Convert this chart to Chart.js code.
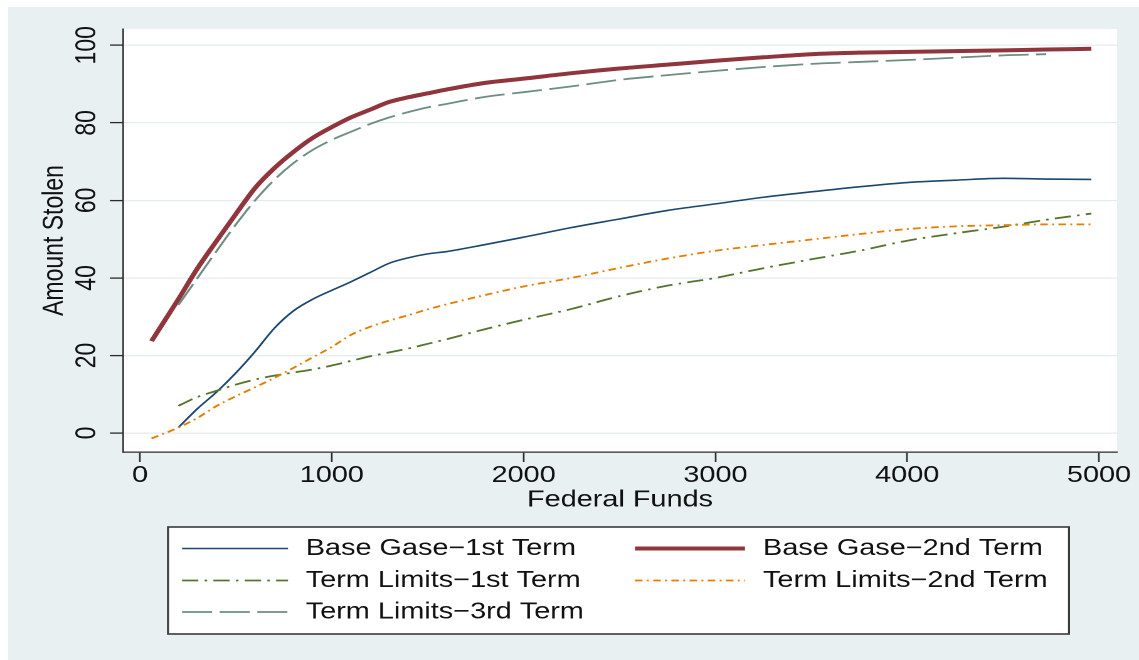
<!DOCTYPE html>
<html>
<head>
<meta charset="utf-8">
<title>Amount Stolen by Federal Funds</title>
<script src="https://cdn.jsdelivr.net/npm/chart.js@4.4.1/dist/chart.umd.min.js"></script>
<style>
  html, body { margin: 0; padding: 0; background: #ffffff; }
  canvas { display: block; }
</style>
</head>
<body>
<!-- drawn on a 908px-wide canvas and shown 1139px wide (horizontally stretched layout) -->
<canvas id="chart" width="908" height="660" style="width:1139px;height:660px"></canvas>
<script>
// Federal funds levels at which the model was evaluated
const federalFunds = [60, 200, 300, 400, 500, 600, 700, 800, 900, 1000, 1100, 1200, 1300, 1400, 1500,
                      1600, 1800, 2000, 2250, 2500, 2750, 3000, 3250, 3500, 3750, 4000, 4250, 4500, 4725, 4960];

// Amount stolen, one array per scenario (null = not evaluated)
const baseCase1st = [null, 1.4, 6.3, 10.6, 15.5, 21.0, 27.0, 31.5, 34.5, 36.8, 39.0, 41.4, 43.8, 45.2, 46.2,
                     46.8, 48.6, 50.5, 53.0, 55.2, 57.4, 59.1, 60.8, 62.2, 63.5, 64.6, 65.2, 65.7, 65.5, 65.4];
const baseCase2nd = [23.7, 34.5, 42.5, 49.6, 56.5, 63.2, 68.3, 72.5, 76.1, 78.9, 81.4, 83.4, 85.4, 86.6, 87.6,
                     88.6, 90.3, 91.4, 92.8, 94.0, 95.0, 96.0, 96.9, 97.7, 98.1, 98.3, 98.5, 98.7, 98.9, 99.1];
const termLimits1st = [null, 7.0, 9.3, 10.9, 12.5, 13.8, 14.8, 15.6, 16.4, 17.4, 18.6, 19.8, 20.8, 21.8, 23.0,
                       24.2, 26.8, 29.2, 32.0, 35.3, 38.0, 40.0, 42.5, 44.8, 47.0, 49.6, 51.5, 53.2, 55.0, 56.6];
const termLimits2nd = [-1.4, 1.4, 3.9, 7.0, 9.5, 11.8, 14.2, 16.8, 19.5, 22.2, 25.3, 27.4, 29.0, 30.4, 31.9,
                       33.2, 35.6, 37.8, 40.0, 42.6, 45.0, 47.0, 48.5, 49.9, 51.3, 52.6, 53.3, 53.6, 53.8, 53.8];
const termLimits3rd = [null, 33.0, 40.0, 47.0, 53.8, 60.0, 65.3, 69.6, 73.0, 75.6, 77.7, 79.7, 81.4, 82.8, 84.0,
                       84.9, 86.7, 87.9, 89.4, 91.1, 92.3, 93.4, 94.4, 95.2, 95.7, 96.2, 96.8, 97.4, 97.7, null];

// Axis ticks
const xTicks = [0, 1000, 2000, 3000, 4000, 5000];
const yTicks = [0, 20, 40, 60, 80, 100];

// Legend labels, in series order
const seriesLabels = [
  'Base Gase\u22121st Term',
  'Base Gase\u22122nd Term',
  'Term Limits\u22121st Term',
  'Term Limits\u22122nd Term',
  'Term Limits\u22123rd Term'
];

const FONT = '"Liberation Sans", Arial, Helvetica, sans-serif';
const FONT_SIZE = 23;
const TEXT = '#111111';
const AXIS = '#2b2b2b';
const BG = '#e8f0f2';
const GRID = '#e3ecef';

function points(ys) {
  const out = [];
  federalFunds.forEach((x, i) => { if (ys[i] !== null) out.push({ x: x, y: ys[i] }); });
  return out;
}

function series(i, ys, color, width, dash) {
  return {
    label: seriesLabels[i],
    data: points(ys),
    borderColor: color,
    backgroundColor: color,
    borderWidth: width,
    borderDash: dash,
    borderCapStyle: 'butt',
    pointRadius: 0,
    fill: false,
    cubicInterpolationMode: 'monotone',
    order: 4 - i
  };
}

// Light frame, white plot region
const backdrop = {
  id: 'backdrop',
  beforeDraw(chart) {
    const { ctx, width, height, chartArea: a } = chart;
    ctx.save();
    ctx.fillStyle = '#ffffff';
    ctx.fillRect(0, 0, width, height);
    ctx.fillStyle = BG;
    ctx.fillRect(6.4, 7, width - 6.4, height - 7);
    ctx.fillStyle = '#ffffff';
    ctx.fillRect(a.left, a.top, a.right - a.left, a.bottom - a.top);
    ctx.restore();
  }
};

// Boxed two-column legend below the plot
const boxLegend = {
  id: 'boxLegend',
  afterDraw(chart) {
    const ctx = chart.ctx;
    const box = { x: 133.9, y: 527, w: 718.3, h: 107 };
    const cols = [{ x0: 145.1, x1: 229.6, tx: 243.7 }, { x0: 506.2, x1: 593.9, tx: 608.3 }];
    const rows = [548.5, 580.5, 612];
    ctx.save();
    ctx.fillStyle = '#ffffff';
    ctx.fillRect(box.x, box.y, box.w, box.h);
    ctx.strokeStyle = '#3a3a3a';
    ctx.lineWidth = 1.6;
    ctx.setLineDash([]);
    ctx.strokeRect(box.x, box.y, box.w, box.h);
    chart.data.datasets.forEach((ds, i) => {
      const c = cols[i % 2];
      const y = rows[Math.floor(i / 2)];
      ctx.beginPath();
      ctx.strokeStyle = ds.borderColor;
      ctx.lineWidth = ds.borderWidth;
      ctx.lineCap = 'butt';
      ctx.setLineDash(ds.borderDash || []);
      ctx.moveTo(c.x0, y);
      ctx.lineTo(c.x1, y);
      ctx.stroke();
      ctx.setLineDash([]);
      ctx.fillStyle = TEXT;
      ctx.font = FONT_SIZE + 'px ' + FONT;
      ctx.textAlign = 'left';
      ctx.textBaseline = 'middle';
      ctx.fillText(ds.label, c.tx, y);
    });
    ctx.restore();
  }
};

new Chart(document.getElementById('chart'), {
  type: 'line',
  data: {
    datasets: [
      series(0, baseCase1st, '#1a476f', 1.6, []),
      series(1, baseCase2nd, '#90353b', 4, []),
      series(2, termLimits1st, '#55752f', 1.8, [13, 5, 2, 5]),
      series(3, termLimits2nd, '#e37e00', 1.8, [6, 3.5, 1.5, 3.5]),
      series(4, termLimits3rd, '#6e8e84', 1.8, [24, 6])
    ]
  },
  plugins: [backdrop, boxLegend],
  options: {
    responsive: false,
    devicePixelRatio: 2,
    animation: false,
    events: [],
    layout: { padding: { left: 0, top: 29, right: 17.5, bottom: 138 } },
    plugins: {
      legend: { display: false },
      title: { display: false },
      tooltip: { enabled: false }
    },
    scales: {
      x: {
        type: 'linear',
        min: -89,
        max: 5094,
        afterBuildTicks(scale) { scale.ticks = xTicks.map(v => ({ value: v })); },
        afterFit(scale) { scale.height = 70; },
        grid: { display: true, drawOnChartArea: false, drawTicks: true, tickLength: 10, tickColor: AXIS, tickWidth: 1.3 },
        border: { display: true, color: AXIS, width: 1.3 },
        ticks: { color: TEXT, font: { family: FONT, size: FONT_SIZE }, padding: 0, maxRotation: 0, autoSkip: false,
                 callback: v => String(v) },
        title: { display: true, text: 'Federal Funds', color: TEXT, font: { family: FONT, size: FONT_SIZE }, padding: { top: 0, bottom: 8.2 } }
      },
      y: {
        type: 'linear',
        min: -4.9,
        max: 104.2,
        afterBuildTicks(scale) { scale.ticks = yTicks.map(v => ({ value: v })); },
        afterFit(scale) { scale.width = 98; },
        grid: { display: true, drawOnChartArea: true, color: GRID, lineWidth: 1.2, drawTicks: true, tickLength: 10.4, tickColor: AXIS, tickWidth: 1.3 },
        border: { display: true, color: AXIS, width: 1.3 },
        ticks: { color: TEXT, font: { family: FONT, size: FONT_SIZE }, padding: -1, minRotation: 90, maxRotation: 90, crossAlign: 'center', autoSkip: false,
                 callback: v => String(v) },
        title: { display: true, text: 'Amount Stolen', color: TEXT, font: { family: FONT, size: FONT_SIZE }, padding: { top: 30, bottom: 0 } }
      }
    }
  }
});
</script>
</body>
</html>
